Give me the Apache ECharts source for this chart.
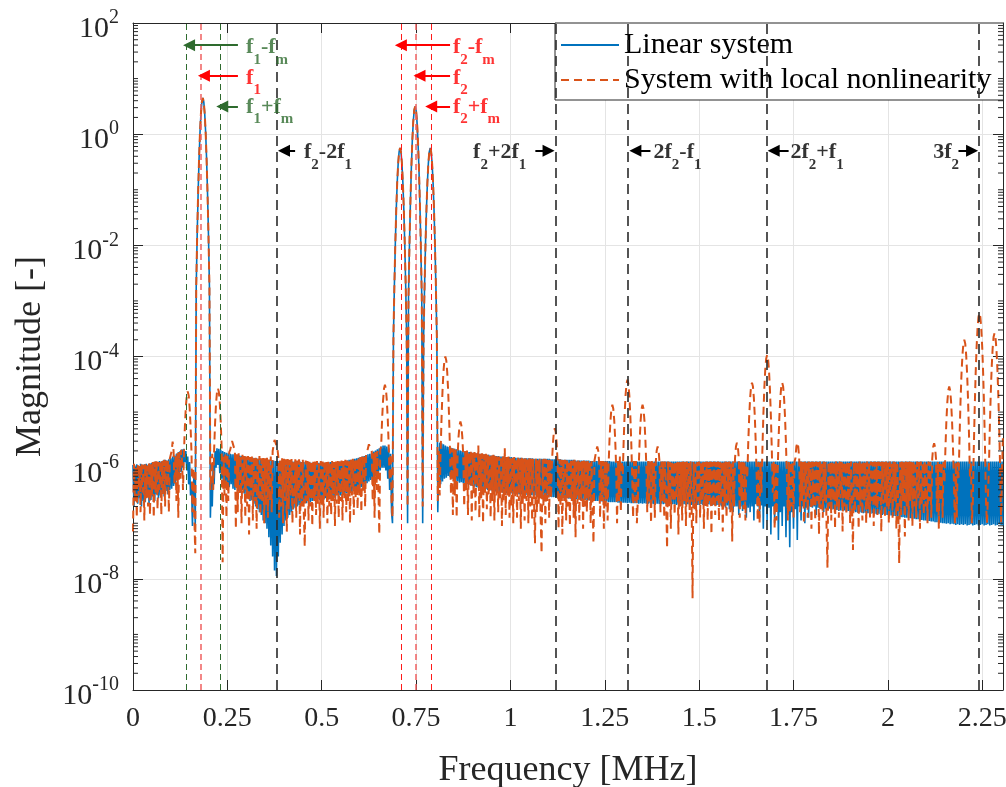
<!DOCTYPE html>
<html>
<head>
<meta charset="utf-8">
<title>Spectrum - linear vs nonlinear</title>
<script src="https://cdn.jsdelivr.net/npm/echarts@6/dist/echarts.min.js"></script>
<style>
  html, body { margin: 0; padding: 0; background: #fff; }
  #chart { width: 1006px; height: 787px; }
</style>
</head>
<body>
<div id="chart"></div>
<script>
// frequency bin spacing [MHz], bin i sits at i * freqStep
const freqStep = 0.0025
const freqMax = 2.305

// log10 of magnitude, linear system (20 bins per row, row start in MHz)
const linearLog10 = [
  /* 0.00 */ -5.95,-6.70,-5.96,-6.60,-5.94,-6.65,-5.97,-6.55,-5.93,-6.70,-5.95,-6.60,-5.94,-6.62,-5.93,-6.50,-5.95,-6.66,-5.92,-6.58,
  /* 0.05 */ -5.91,-6.52,-5.90,-6.60,-5.89,-6.48,-5.90,-6.55,-5.88,-6.50,-5.89,-6.45,-5.87,-6.52,-5.86,-6.42,-5.87,-6.48,-5.85,-6.40,
  /* 0.10 */ -5.83,-6.38,-5.80,-6.33,-5.78,-6.30,-5.75,-6.22,-5.72,-6.15,-5.70,-6.08,-5.67,-6.00,-5.66,-5.90,-5.70,-6.05,-5.80,-6.30,
  /* 0.15 */ -5.90,-6.50,-6.30,-7.05,-6.30,-6.10,-7.10,-2.75,-1.83,-1.07,-0.45,0.03,0.37,0.58,0.65,0.58,0.37,0.03,-0.45,-1.07,
  /* 0.20 */ -1.83,-2.75,-6.90,-6.20,-6.70,-5.90,-6.30,-5.70,-6.00,-5.65,-5.95,-5.66,-6.10,-5.68,-6.20,-5.70,-6.30,-5.72,-6.25,-5.73,
  /* 0.25 */ -6.32,-5.74,-6.35,-5.75,-6.30,-5.76,-6.38,-5.76,-6.40,-5.77,-6.36,-5.78,-6.42,-5.78,-6.45,-5.79,-6.40,-5.80,-6.47,-5.80,
  /* 0.30 */ -6.50,-5.81,-6.55,-5.81,-6.60,-5.82,-6.58,-5.82,-6.65,-5.83,-6.70,-5.83,-6.75,-5.84,-6.80,-5.84,-6.85,-5.85,-6.95,-5.85,
  /* 0.35 */ -7.00,-5.86,-7.10,-5.86,-7.25,-5.87,-7.40,-5.87,-7.60,-5.87,-7.85,-5.88,-7.95,-5.88,-7.60,-5.88,-7.35,-5.88,-7.20,-5.88,
  /* 0.40 */ -7.05,-5.88,-6.95,-5.88,-6.90,-5.88,-6.85,-5.88,-6.80,-5.89,-6.75,-5.89,-6.72,-5.89,-6.70,-5.89,-6.68,-5.89,-6.66,-5.90,
  /* 0.45 */ -6.65,-5.90,-6.62,-5.90,-6.64,-5.90,-6.60,-5.90,-6.62,-5.91,-6.60,-5.91,-6.58,-5.91,-6.60,-5.91,-6.57,-5.91,-6.58,-5.91,
  /* 0.50 */ -6.56,-5.91,-6.58,-5.91,-6.55,-5.91,-6.56,-5.91,-6.54,-5.90,-6.55,-5.90,-6.52,-5.90,-6.54,-5.90,-6.50,-5.90,-6.52,-5.89,
  /* 0.55 */ -6.50,-5.89,-6.48,-5.88,-6.50,-5.88,-6.46,-5.87,-6.47,-5.86,-6.45,-5.86,-6.44,-5.85,-6.42,-5.84,-6.43,-5.83,-6.40,-5.82,
  /* 0.60 */ -6.38,-5.81,-6.35,-5.80,-6.33,-5.79,-6.30,-5.78,-6.28,-5.76,-6.25,-5.75,-6.22,-5.73,-6.20,-5.71,-6.18,-5.69,-6.15,-5.67,
  /* 0.65 */ -6.10,-5.65,-6.05,-5.62,-6.00,-5.60,-6.00,-5.60,-6.05,-5.62,-6.20,-5.65,-6.40,-5.75,-6.80,-7.00,-3.65,-2.73,-1.97,-1.35,
  /* 0.70 */ -0.87,-0.53,-0.32,-0.25,-0.32,-0.53,-0.87,-1.35,-1.97,-2.73,-3.65,-7.00,-2.90,-1.98,-1.22,-0.60,-0.12,0.22,0.43,0.50,
  /* 0.75 */ 0.43,0.22,-0.12,-0.60,-1.22,-1.98,-2.90,-7.00,-3.65,-2.73,-1.97,-1.35,-0.87,-0.53,-0.32,-0.25,-0.32,-0.53,-0.87,-1.35,
  /* 0.80 */ -1.97,-2.73,-3.65,-6.80,-6.00,-5.55,-6.30,-5.56,-6.25,-5.58,-6.20,-5.60,-6.18,-5.62,-6.15,-5.63,-6.17,-5.64,-6.20,-5.65,
  /* 0.85 */ -6.22,-5.66,-6.24,-5.67,-6.25,-5.68,-6.27,-5.69,-6.26,-5.70,-6.28,-5.71,-6.29,-5.71,-6.30,-5.72,-6.31,-5.72,-6.32,-5.73,
  /* 0.90 */ -6.33,-5.73,-6.34,-5.74,-6.35,-5.74,-6.36,-5.75,-6.37,-5.75,-6.38,-5.76,-6.38,-5.76,-6.39,-5.77,-6.40,-5.77,-6.41,-5.78,
  /* 0.95 */ -6.41,-5.78,-6.42,-5.78,-6.43,-5.79,-6.43,-5.79,-6.44,-5.80,-6.44,-5.80,-6.45,-5.80,-6.45,-5.81,-6.46,-5.81,-6.46,-5.81,
  /* 1.00 */ -6.46,-5.81,-6.47,-5.82,-6.47,-5.82,-6.47,-5.82,-6.48,-5.82,-6.48,-5.82,-6.48,-5.83,-6.48,-5.83,-6.49,-5.83,-6.49,-5.83,
  /* 1.05 */ -6.49,-5.83,-6.49,-5.83,-6.50,-5.84,-6.50,-5.84,-6.50,-5.84,-6.50,-5.84,-6.51,-5.84,-6.51,-5.84,-6.51,-5.84,-6.52,-5.84,
  /* 1.10 */ -6.52,-5.84,-6.52,-5.85,-6.53,-5.85,-6.53,-5.85,-6.53,-5.85,-6.54,-5.85,-6.54,-5.85,-6.54,-5.86,-6.55,-5.86,-6.55,-5.86,
  /* 1.15 */ -6.55,-5.86,-6.56,-5.86,-6.56,-5.86,-6.56,-5.86,-6.57,-5.87,-6.57,-5.87,-6.57,-5.87,-6.58,-5.87,-6.58,-5.87,-6.58,-5.87,
  /* 1.20 */ -6.58,-5.87,-6.59,-5.87,-6.59,-5.88,-6.59,-5.88,-6.60,-5.88,-6.60,-5.88,-6.60,-5.88,-6.60,-5.88,-6.61,-5.88,-6.61,-5.88,
  /* 1.25 */ -6.61,-5.88,-6.61,-5.88,-6.62,-5.88,-6.62,-5.89,-6.62,-5.89,-6.62,-5.89,-6.62,-5.89,-6.63,-5.89,-6.63,-5.89,-6.63,-5.89,
  /* 1.30 */ -6.63,-5.89,-6.63,-5.89,-6.64,-5.89,-6.63,-5.89,-6.64,-5.89,-6.64,-5.89,-6.64,-5.89,-6.64,-5.89,-6.65,-5.89,-6.64,-5.89,
  /* 1.35 */ -6.65,-5.89,-6.64,-5.89,-6.65,-5.89,-6.65,-5.89,-6.64,-5.89,-6.65,-5.89,-6.66,-5.89,-6.65,-5.89,-6.65,-5.89,-6.66,-5.89,
  /* 1.40 */ -6.65,-5.89,-6.66,-5.89,-6.65,-5.89,-6.66,-5.89,-6.66,-5.89,-6.65,-5.89,-6.66,-5.89,-6.66,-5.89,-6.67,-5.89,-6.66,-5.89,
  /* 1.45 */ -6.66,-5.89,-6.67,-5.89,-6.66,-5.89,-6.67,-5.89,-6.66,-5.89,-6.67,-5.89,-6.67,-5.89,-6.66,-5.89,-6.67,-5.89,-6.67,-5.89,
  /* 1.50 */ -6.67,-5.89,-6.66,-5.89,-6.67,-5.89,-6.68,-5.89,-6.67,-5.89,-6.66,-5.89,-6.67,-5.89,-6.68,-5.89,-6.67,-5.89,-6.68,-5.89,
  /* 1.55 */ -6.67,-5.89,-6.68,-5.89,-6.70,-5.89,-6.68,-5.89,-6.72,-5.89,-6.68,-5.89,-6.75,-5.89,-6.68,-5.89,-6.80,-5.89,-6.70,-5.89,
  /* 1.60 */ -6.70,-5.89,-6.85,-5.89,-6.70,-5.89,-6.78,-5.89,-6.70,-5.89,-6.90,-5.89,-6.72,-5.89,-6.80,-5.89,-6.70,-5.89,-6.95,-5.89,
  /* 1.65 */ -6.66,-5.89,-6.70,-5.89,-6.90,-5.89,-6.68,-5.89,-7.10,-5.89,-6.70,-5.89,-6.95,-5.89,-6.72,-5.89,-7.20,-5.89,-6.70,-5.89,
  /* 1.70 */ -7.00,-5.89,-6.75,-5.89,-7.30,-5.89,-6.80,-5.89,-7.05,-5.89,-6.70,-5.89,-7.25,-5.89,-6.75,-5.89,-7.43,-5.89,-6.80,-5.89,
  /* 1.75 */ -7.10,-5.89,-6.75,-5.89,-7.30,-5.89,-6.70,-5.89,-6.95,-5.89,-6.70,-5.89,-7.00,-5.89,-6.72,-5.89,-6.90,-5.89,-6.70,-5.89,
  /* 1.80 */ -6.72,-5.89,-6.70,-5.89,-6.85,-5.89,-6.72,-5.89,-6.74,-5.89,-6.73,-5.89,-6.80,-5.89,-6.74,-5.89,-6.75,-5.89,-6.74,-5.89,
  /* 1.85 */ -6.76,-5.89,-6.75,-5.89,-6.77,-5.89,-6.76,-5.89,-6.78,-5.89,-6.77,-5.89,-6.78,-5.89,-6.77,-5.89,-6.79,-5.89,-6.78,-5.89,
  /* 1.90 */ -6.79,-5.89,-6.80,-5.89,-6.79,-5.89,-6.80,-5.89,-6.81,-5.89,-6.80,-5.89,-6.81,-5.89,-6.82,-5.89,-6.81,-5.89,-6.82,-5.89,
  /* 1.95 */ -6.82,-5.89,-6.83,-5.89,-6.82,-5.89,-6.83,-5.89,-6.84,-5.89,-6.83,-5.89,-6.84,-5.89,-6.85,-5.89,-6.84,-5.89,-6.85,-5.89,
  /* 2.00 */ -6.85,-5.89,-6.86,-5.89,-6.86,-5.89,-6.87,-5.89,-6.87,-5.89,-6.88,-5.89,-6.88,-5.89,-6.89,-5.89,-6.89,-5.89,-6.90,-5.89,
  /* 2.05 */ -6.90,-5.89,-6.91,-5.89,-6.91,-5.89,-6.92,-5.89,-6.92,-5.89,-6.93,-5.89,-6.93,-5.89,-6.94,-5.89,-6.94,-5.89,-6.95,-5.89,
  /* 2.10 */ -6.95,-5.89,-6.96,-5.89,-6.96,-5.89,-6.97,-5.89,-6.97,-5.89,-6.98,-5.89,-6.98,-5.89,-6.99,-5.89,-6.99,-5.89,-7.00,-5.89,
  /* 2.15 */ -7.00,-5.89,-7.01,-5.89,-7.00,-5.89,-7.02,-5.89,-7.01,-5.89,-7.02,-5.89,-7.03,-5.89,-7.02,-5.89,-7.03,-5.89,-7.02,-5.89,
  /* 2.20 */ -7.03,-5.89,-7.02,-5.89,-7.04,-5.89,-7.03,-5.89,-7.02,-5.89,-7.04,-5.89,-7.03,-5.89,-7.02,-5.89,-7.04,-5.89,-7.03,-5.89,
  /* 2.25 */ -7.02,-5.89,-7.04,-5.89,-7.03,-5.89,-7.02,-5.89,-7.04,-5.89,-7.03,-5.89,-7.02,-5.89,-7.04,-5.89,-7.03,-5.89,-7.02,-5.89,
  /* 2.30 */ -7.03,-5.89,-7.04
]

// log10 of magnitude, system with local nonlinearity
const nonlinearLog10 = [
  /* 0.00 */ -7.15,-5.93,-6.60,-5.96,-6.90,-5.94,-6.50,-5.97,-6.80,-5.92,-6.45,-5.95,-6.95,-5.93,-6.55,-5.96,-6.70,-5.91,-6.85,-5.94,
  /* 0.05 */ -6.50,-5.90,-6.90,-5.89,-6.45,-5.88,-6.75,-5.90,-6.40,-5.87,-6.85,-5.88,-6.50,-5.86,-6.70,-5.85,-6.35,-5.86,-6.80,-5.84,
  /* 0.10 */ -5.85,-5.70,-5.53,-5.70,-6.30,-5.78,-6.60,-5.74,-6.90,-5.72,-6.20,-5.68,-5.90,-6.40,-5.73,-5.25,-4.91,-4.70,-4.63,-4.70,
  /* 0.15 */ -4.91,-5.25,-5.73,-6.80,-6.00,-6.90,-7.54,-2.75,-1.83,-1.07,-0.45,0.03,0.37,0.58,0.65,0.58,0.37,0.03,-0.45,-1.07,
  /* 0.20 */ -1.83,-2.75,-6.40,-6.10,-5.75,-6.40,-5.67,-5.19,-4.85,-4.64,-4.57,-4.64,-4.85,-5.19,-5.67,-7.70,-5.80,-6.50,-5.72,-6.90,
  /* 0.25 */ -5.75,-6.60,-5.72,-5.68,-5.60,-5.52,-5.50,-5.55,-5.70,-7.10,-5.76,-6.80,-5.74,-6.50,-5.78,-7.00,-5.77,-6.45,-5.79,-6.90,
  /* 0.30 */ -5.80,-6.70,-5.79,-7.20,-5.81,-6.50,-5.80,-6.95,-5.82,-6.60,-5.78,-7.10,-5.82,-6.55,-5.79,-6.85,-5.83,-6.60,-5.80,-7.00,
  /* 0.35 */ -5.83,-6.70,-5.82,-6.90,-5.84,-6.60,-5.80,-6.80,-5.70,-5.60,-5.50,-5.47,-5.52,-5.65,-5.80,-6.90,-5.85,-6.70,-5.83,-7.00,
  /* 0.40 */ -5.84,-6.60,-5.85,-7.15,-5.83,-6.75,-5.86,-6.50,-5.84,-7.00,-5.86,-6.65,-5.85,-6.90,-5.87,-6.55,-5.85,-7.20,-5.87,-6.70,
  /* 0.45 */ -5.86,-6.80,-7.42,-5.87,-6.60,-5.88,-6.95,-5.86,-6.70,-5.88,-7.05,-5.87,-6.60,-5.89,-6.85,-5.88,-6.65,-5.89,-7.10,-5.88,
  /* 0.50 */ -6.70,-5.89,-6.90,-5.88,-6.55,-5.90,-7.00,-5.89,-6.70,-5.90,-6.85,-5.88,-6.60,-5.90,-7.05,-5.89,-6.65,-5.88,-6.90,-5.89,
  /* 0.55 */ -6.60,-5.87,-6.95,-5.88,-6.55,-5.86,-6.80,-5.87,-6.60,-5.85,-7.00,-5.86,-6.50,-5.84,-6.85,-5.85,-6.55,-5.83,-6.75,-5.82,
  /* 0.60 */ -6.50,-5.81,-6.80,-5.80,-6.45,-5.78,-6.70,-5.77,-5.72,-5.65,-5.58,-5.56,-5.60,-5.70,-6.60,-5.74,-6.90,-5.72,-6.40,-5.70,
  /* 0.65 */ -6.30,-7.20,-5.68,-5.61,-5.13,-4.79,-4.58,-4.51,-4.58,-4.79,-5.13,-5.61,-6.23,-5.75,-6.60,-6.90,-3.65,-2.73,-1.97,-1.35,
  /* 0.70 */ -0.87,-0.53,-0.32,-0.25,-0.32,-0.53,-0.87,-1.35,-1.97,-2.73,-3.65,-6.70,-2.90,-1.98,-1.22,-0.60,-0.12,0.22,0.43,0.50,
  /* 0.75 */ 0.43,0.22,-0.12,-0.60,-1.22,-1.98,-2.90,-6.70,-3.65,-2.73,-1.97,-1.35,-0.87,-0.53,-0.32,-0.25,-0.32,-0.53,-0.87,-1.35,
  /* 0.80 */ -1.97,-2.73,-3.65,-6.60,-5.70,-6.50,-5.72,-5.10,-4.62,-4.28,-4.07,-4.00,-4.07,-4.28,-4.62,-5.10,-5.72,-6.48,-5.65,-6.85,
  /* 0.85 */ -5.66,-6.50,-5.68,-6.90,-5.79,-5.45,-5.24,-5.17,-5.24,-5.45,-5.79,-6.70,-5.70,-6.40,-5.69,-6.85,-5.72,-6.30,-5.70,-6.95,
  /* 0.90 */ -5.73,-6.50,-5.72,-6.80,-5.74,-6.35,-5.60,-6.90,-5.75,-6.55,-5.74,-7.00,-5.76,-6.45,-5.75,-6.75,-5.77,-6.50,-5.76,-6.90,
  /* 0.95 */ -5.78,-6.60,-5.77,-6.95,-5.79,-6.50,-5.78,-6.80,-5.80,-6.55,-5.79,-7.05,-5.80,-6.60,-5.65,-6.85,-5.81,-6.50,-5.80,-6.90,
  /* 1.00 */ -5.81,-6.70,-5.82,-7.00,-5.81,-6.55,-5.83,-6.90,-5.82,-6.60,-5.83,-7.10,-5.82,-6.65,-5.84,-6.95,-5.83,-6.60,-5.84,-7.00,
  /* 1.05 */ -5.83,-6.70,-5.84,-6.95,-5.84,-6.60,-7.36,-5.84,-6.80,-5.85,-6.65,-5.84,-6.90,-7.54,-5.85,-6.70,-5.84,-7.00,-5.85,-6.60,
  /* 1.10 */ -5.85,-6.90,-5.84,-6.55,-5.91,-5.57,-5.36,-5.29,-5.36,-5.57,-5.91,-7.10,-5.85,-6.70,-5.86,-7.20,-5.85,-6.60,-5.86,-6.95,
  /* 1.15 */ -5.86,-6.70,-5.87,-7.05,-5.86,-6.60,-5.87,-6.90,-5.86,-7.25,-5.87,-6.65,-5.87,-6.95,-5.86,-6.60,-5.88,-7.10,-5.87,-6.70,
  /* 1.20 */ -5.87,-6.80,-5.88,-6.60,-5.87,-7.00,-5.88,-6.65,-7.36,-5.88,-5.90,-5.69,-5.62,-5.69,-5.90,-6.90,-5.88,-6.60,-5.88,-7.10,
  /* 1.25 */ -5.88,-6.70,-5.88,-6.95,-5.97,-5.49,-5.15,-4.94,-4.87,-4.94,-5.15,-5.49,-5.97,-7.00,-5.88,-6.60,-5.80,-6.80,-5.88,-6.14,
  /* 1.30 */ -5.52,-5.04,-4.70,-4.49,-4.42,-4.49,-4.70,-5.04,-5.52,-6.14,-6.90,-5.88,-6.60,-5.88,-7.00,-6.59,-5.97,-5.49,-5.15,-4.94,
  /* 1.35 */ -4.87,-4.94,-5.15,-5.49,-5.97,-6.80,-5.88,-6.65,-5.89,-7.00,-5.88,-6.60,-5.89,-6.90,-5.90,-5.69,-5.62,-5.69,-5.90,-6.80,
  /* 1.40 */ -5.89,-6.60,-5.89,-6.90,-5.89,-6.55,-7.45,-5.89,-6.70,-5.90,-7.10,-5.89,-6.60,-5.90,-6.85,-5.89,-6.55,-5.90,-7.20,-5.89,
  /* 1.45 */ -6.70,-5.90,-6.95,-5.89,-6.60,-5.90,-7.05,-5.89,-6.65,-5.90,-6.90,-5.89,-6.60,-8.35,-5.90,-6.75,-5.89,-7.00,-5.90,-6.60,
  /* 1.50 */ -5.89,-6.90,-5.90,-6.60,-5.89,-7.10,-5.90,-6.70,-5.89,-6.95,-5.90,-6.60,-5.89,-7.20,-5.90,-6.70,-5.89,-6.85,-5.90,-6.60,
  /* 1.55 */ -5.89,-6.95,-5.90,-6.65,-5.89,-7.15,-5.90,-6.70,-5.89,-6.90,-5.90,-6.60,-5.89,-6.80,-5.90,-7.33,-5.89,-6.70,-5.83,-5.62,
  /* 1.60 */ -5.55,-5.62,-5.83,-6.90,-5.90,-6.60,-5.89,-6.75,-5.90,-6.95,-5.95,-6.19,-5.57,-5.09,-4.75,-4.54,-4.47,-4.54,-4.75,-5.09,
  /* 1.65 */ -5.57,-6.19,-6.95,-5.90,-7.00,-5.90,-6.45,-5.69,-5.07,-4.59,-4.25,-4.04,-3.97,-4.04,-4.25,-4.59,-5.07,-5.69,-6.45,-5.90,
  /* 1.70 */ -7.10,-5.90,-6.95,-6.19,-5.57,-5.09,-4.75,-4.54,-4.47,-4.54,-4.75,-5.09,-5.57,-6.19,-6.95,-5.90,-6.80,-5.89,-6.70,-5.90,
  /* 1.75 */ -6.90,-5.90,-5.83,-5.62,-5.55,-5.62,-5.83,-6.80,-5.89,-6.60,-5.90,-7.00,-5.89,-6.65,-5.90,-6.90,-5.89,-6.55,-5.90,-7.10,
  /* 1.80 */ -5.89,-6.70,-5.90,-6.95,-5.89,-6.60,-5.90,-7.20,-5.89,-6.75,-5.90,-6.90,-5.89,-6.60,-5.90,-7.05,-7.80,-5.89,-6.70,-5.90,
  /* 1.85 */ -6.95,-5.89,-6.60,-5.90,-7.10,-5.89,-6.70,-5.90,-6.90,-5.89,-6.55,-5.90,-7.15,-5.89,-6.70,-5.90,-6.85,-5.89,-6.60,-5.90,
  /* 1.90 */ -7.00,-5.89,-6.65,-7.48,-5.90,-6.80,-5.89,-6.60,-5.90,-7.10,-5.89,-6.70,-5.90,-6.95,-5.89,-6.60,-5.90,-7.00,-5.89,-6.75,
  /* 1.95 */ -5.90,-6.90,-5.89,-6.60,-5.90,-7.05,-5.89,-6.70,-5.90,-6.85,-5.89,-6.60,-5.90,-7.15,-5.89,-6.65,-5.90,-6.90,-5.89,-6.70,
  /* 2.00 */ -5.90,-7.00,-5.89,-6.65,-5.90,-6.90,-5.89,-6.60,-5.90,-7.10,-5.89,-6.70,-7.72,-5.90,-6.85,-5.89,-6.60,-5.90,-7.24,-5.89,
  /* 2.05 */ -6.70,-5.90,-6.95,-5.89,-6.60,-5.90,-7.05,-5.89,-6.70,-5.90,-6.90,-5.89,-6.55,-5.90,-7.10,-5.89,-6.65,-5.90,-6.85,-5.89,
  /* 2.10 */ -6.70,-5.90,-7.00,-5.89,-6.60,-5.90,-6.90,-5.84,-5.63,-5.56,-5.63,-5.84,-6.80,-5.90,-7.10,-5.89,-6.60,-5.90,-6.90,-5.90,
  /* 2.15 */ -6.26,-5.64,-5.16,-4.82,-4.61,-4.54,-4.61,-4.82,-5.16,-5.64,-6.26,-7.02,-5.90,-6.90,-5.90,-6.18,-5.42,-4.80,-4.32,-3.98,
  /* 2.20 */ -3.77,-3.70,-3.77,-3.98,-4.32,-4.80,-5.42,-6.18,-5.90,-7.00,-6.62,-5.70,-4.94,-4.32,-3.84,-3.50,-3.29,-3.22,-3.29,-3.50,
  /* 2.25 */ -3.84,-4.32,-4.94,-5.70,-6.62,-7.00,-6.98,-6.06,-5.30,-4.68,-4.20,-3.86,-3.65,-3.58,-3.65,-3.86,-4.20,-4.68,-5.30,-6.06,
  /* 2.30 */ -6.98,-6.00,-5.40
]

// vertical guide lines [MHz]
const f1Sidebands = [0.145, 0.225]   // f1 - fm, f1 + fm
const f1Carrier = [0.185]
const f2Sidebands = [0.7075, 0.7875] // f2 - fm, f2 + fm
const f2Carrier = [0.7475]
const intermodLines = [0.3775, 1.1175, 1.31, 1.68, 2.2425]

// annotation text: [freq MHz, log10 level, rich text, colour group]
const annotTexts = [
  [0.2996, 1.56, '{n|f}{s|1}{n|-f}{s|m}', 'green'],
  [0.2996, 1.01, '{n|f}{s|1}', 'red'],
  [0.2996, 0.49, '{n|f}{s|1}{n|+f}{s|m}', 'green'],
  [0.8475, 1.56, '{n|f}{s|2}{n|-f}{s|m}', 'red'],
  [0.8475, 1.01, '{n|f}{s|2}', 'red'],
  [0.8475, 0.49, '{n|f}{s|2}{n|+f}{s|m}', 'red'],
  [0.453, -0.33, '{n|f}{s|2}{n|-2f}{s|1}', 'black'],
  [0.901, -0.33, '{n|f}{s|2}{n|+2f}{s|1}', 'black'],
  [1.379, -0.33, '{n|2f}{s|2}{n|-f}{s|1}', 'black'],
  [1.742, -0.33, '{n|2f}{s|2}{n|+f}{s|1}', 'black'],
  [2.12, -0.33, '{n|3f}{s|2}', 'black']
]
// arrows: [tail freq, head freq, log10 level, colour group]
const annotArrows = [
  [0.278, 0.1485, 1.6, 'green'],
  [0.278, 0.188, 1.05, 'red'],
  [0.278, 0.2365, 0.5, 'green'],
  [0.84, 0.7097, 1.6, 'red'],
  [0.84, 0.759, 1.05, 'red'],
  [0.84, 0.79, 0.5, 'red'],
  [0.4295, 0.400, -0.3, 'black'],
  [1.066, 1.101, -0.3, 'black'],
  [1.371, 1.331, -0.3, 'black'],
  [1.737, 1.6975, -0.3, 'black'],
  [2.187, 2.223, -0.3, 'black']
]

const groupColor = { green: '#2e6b2e', red: '#ff0000', black: '#000000' }
const serif = 'Liberation Serif'
const axisColor = '#262626'
const gridColor = '#e4e4e4'

// minor ticks of a log axis (2..9 x 10^k and the unlabeled decades)
const minorTicks = []
for (let k = -10; k < 2; k++) {
  for (let m = 2; m <= 9; m++) minorTicks.push([0, k + Math.log10(m)])
  if (k % 2 !== 0) minorTicks.push([0, k])
}

const linearData = linearLog10.map((v, i) => [i * freqStep, v])
const nonlinearData = nonlinearLog10.map((v, i) => [i * freqStep, v])

const guideLines = [].concat(
  f1Sidebands.map(f => ({ xAxis: f, lineStyle: { color: '#2e6b2e', type: [6, 4], width: 1 } })),
  f1Carrier.map(f => ({ xAxis: f, lineStyle: { color: '#f06060', type: [6, 4], width: 1.5 } })),
  f2Sidebands.map(f => ({ xAxis: f, lineStyle: { color: '#ff1a1a', type: [6, 4], width: 1 } })),
  f2Carrier.map(f => ({ xAxis: f, lineStyle: { color: '#f06060', type: [6, 4], width: 1.5 } })),
  intermodLines.map(f => ({ xAxis: f, lineStyle: { color: '#2a2a2a', type: [10, 6], width: 1.6 } }))
)

const chart = echarts.init(document.getElementById('chart'))

chart.setOption({
  animation: false,
  textStyle: { fontFamily: serif },
  grid: { left: 133, right: 3, top: 23, bottom: 97, containLabel: false, outerBoundsMode: 'none' },
  legend: {
    data: ['Linear system', 'System with local nonlinearity'],
    orient: 'vertical',
    left: 555,
    top: 23,
    padding: [7, 12, 5, 5],
    itemGap: 5,
    itemWidth: 58,
    itemHeight: 14,
    itemStyle: { opacity: 0 },
    backgroundColor: '#ffffff',
    borderColor: axisColor,
    borderWidth: 1,
    borderRadius: 0,
    textStyle: { fontFamily: serif, fontSize: 30, color: '#000' }
  },
  xAxis: [{
    type: 'value',
    min: 0,
    max: freqMax,
    interval: 0.25,
    name: 'Frequency [MHz]',
    nameLocation: 'middle',
    nameGap: 63,
    nameTextStyle: { fontFamily: serif, fontSize: 36, color: axisColor },
    axisLine: { onZero: false, lineStyle: { color: axisColor } },
    axisTick: { inside: true, length: 10, lineStyle: { color: axisColor } },
    axisLabel: { fontFamily: serif, fontSize: 28, color: axisColor, margin: 15, showMaxLabel: false },
    splitLine: { show: true, lineStyle: { color: gridColor } }
  }, {
    type: 'value',
    position: 'top',
    min: 0,
    max: freqMax,
    interval: 0.25,
    axisLine: { onZero: false, lineStyle: { color: axisColor } },
    axisTick: { inside: true, length: 10, lineStyle: { color: axisColor } },
    axisLabel: { show: false },
    splitLine: { show: false }
  }],
  yAxis: [{
    type: 'value',
    min: -10,
    max: 2,
    interval: 2,
    name: 'Magnitude [-]',
    nameLocation: 'middle',
    nameGap: 84,
    nameTextStyle: { fontFamily: serif, fontSize: 36, color: axisColor },
    axisLine: { show: true, onZero: false, lineStyle: { color: axisColor } },
    axisTick: { show: true, inside: true, length: 10, lineStyle: { color: axisColor } },
    axisLabel: {
      margin: 14,
      padding: [12, 0, 0, 0],
      formatter: v => '{b|10}{s|' + v + '}',
      rich: {
        b: { fontFamily: serif, fontSize: 30, color: axisColor, lineHeight: 42 },
        s: { fontFamily: serif, fontSize: 20, color: axisColor, lineHeight: 16, verticalAlign: 'top' }
      }
    },
    splitLine: { show: true, lineStyle: { color: gridColor } }
  }, {
    type: 'value',
    position: 'right',
    min: -10,
    max: 2,
    interval: 2,
    axisLine: { show: true, onZero: false, lineStyle: { color: axisColor } },
    axisTick: { show: true, inside: true, length: 10, lineStyle: { color: axisColor } },
    axisLabel: { show: false },
    splitLine: { show: false }
  }],
  series: [
    {
      name: 'Linear system',
      type: 'line',
      data: linearData,
      showSymbol: false,
      symbol: 'none',
      silent: true,
      z: 2,
      lineStyle: { color: '#0072bd', width: 1.6 },
      itemStyle: { color: '#0072bd' }
    },
    {
      name: 'System with local nonlinearity',
      type: 'line',
      data: nonlinearData,
      showSymbol: false,
      symbol: 'none',
      silent: true,
      z: 3,
      lineStyle: { color: '#d95319', width: 2, type: [8, 5] },
      itemStyle: { color: '#d95319' }
    },
    {
      // dashed marker lines
      name: 'guides',
      type: 'line',
      data: [],
      z: 5,
      silent: true,
      markLine: {
        silent: true,
        symbol: ['none', 'none'],
        label: { show: false },
        data: guideLines
      }
    },
    {
      name: 'arrows',
      type: 'line',
      data: [],
      z: 6,
      silent: true,
      markLine: {
        silent: true,
        symbol: ['none', 'triangle'],
        symbolSize: 12,
        label: { show: false },
        data: annotArrows.map(a => [
          { coord: [a[0], a[2]], lineStyle: { color: groupColor[a[3]], width: 2, type: 'solid' } },
          { coord: [a[1], a[2]], lineStyle: { color: groupColor[a[3]], width: 2, type: 'solid' } }
        ])
      }
    },
    {
      name: 'labels',
      type: 'scatter',
      z: 7,
      silent: true,
      symbolSize: 0,
      data: annotTexts.map(a => ({ value: [a[0], a[1]], name: a[2], label: { color: groupColor[a[3]] } })),
      label: {
        show: true,
        position: 'right',
        distance: 0,
        formatter: p => p.name,
        rich: {
          n: { fontFamily: serif, fontWeight: 'bold', fontSize: 22, lineHeight: 40 },
          s: { fontFamily: serif, fontWeight: 'bold', fontSize: 15, lineHeight: 15, verticalAlign: 'bottom' }
        }
      }
    },
    {
      // minor log ticks on left and right edges
      name: 'minorTicks',
      type: 'custom',
      z: 8,
      silent: true,
      clip: false,
      data: minorTicks,
      encode: { x: 0, y: 1 },
      renderItem: function (params, api) {
        const lv = api.value(1)
        const a = api.coord([0, lv])
        const b = api.coord([freqMax, lv])
        const st = { stroke: axisColor, lineWidth: 1 }
        return {
          type: 'group',
          children: [
            { type: 'line', shape: { x1: a[0], y1: a[1], x2: a[0] + 5, y2: a[1] }, style: st },
            { type: 'line', shape: { x1: b[0] - 5, y1: b[1], x2: b[0], y2: b[1] }, style: st }
          ]
        }
      }
    }
  ]
})
</script>
</body>
</html>
